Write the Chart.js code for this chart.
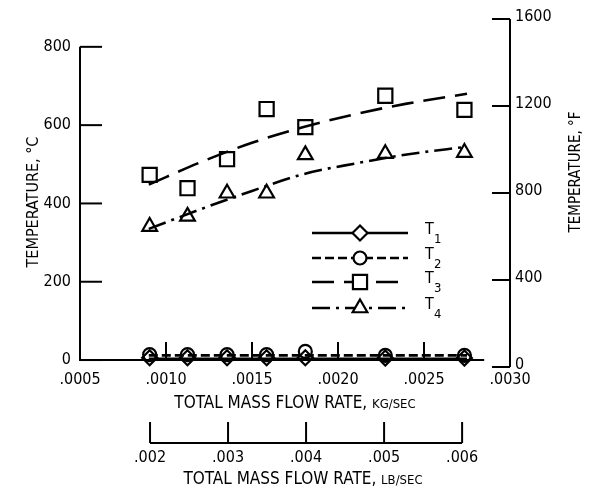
<!DOCTYPE html>
<html>
<head>
<meta charset="utf-8">
<script src="https://cdn.jsdelivr.net/npm/chart.js@4.4.1/dist/chart.umd.min.js"></script>
<style>
  html, body { margin: 0; padding: 0; background: #fff; }
  #wrap { width: 589px; height: 491px; }
</style>
</head>
<body>
<div id="wrap"><canvas id="tempChart"></canvas></div>
<script>
// measured points (kg/sec, deg C)
const flowKg = [0.000905, 0.001125, 0.001355, 0.001585, 0.00181, 0.002275, 0.002735];
const t1 = [6, 6, 6, 6, 6, 5, 5];
const t2 = [14, 14, 14, 14, 22, 12, 12];
const t3 = [473, 439, 513, 641, 595, 675, 639];
const t4 = [341, 367, 426, 426, 524, 527, 530];

// faired curves
const fitX = [0.0009, 0.0012, 0.0015, 0.0018, 0.0021, 0.0024, 0.00275];
const fitT1 = [3, 3, 3, 3, 3, 3, 3];
const fitT2 = [12, 12, 12, 12, 12, 12, 12];
const fitT3 = [448, 505, 555, 595, 628, 655, 680];
const fitT4 = [335, 385, 432, 475, 502, 525, 545];

// axis ticks
const ticksKg = [0.0005, 0.0010, 0.0015, 0.0020, 0.0025, 0.0030];
const ticksLb = [0.002, 0.003, 0.004, 0.005, 0.006];
const ticksC = [0, 200, 400, 600, 800];
const ticksF = [0, 400, 800, 1200, 1600];
const seriesNames = ['1', '2', '3', '4'];

const LB_TO_KG = 0.45359237;
const FONT = '"DejaVu Sans Condensed", "DejaVu Sans", sans-serif';

function pts(xs, ys) { return xs.map((v, i) => ({ x: v, y: ys[i] })); }
function fmtDec(v, digits) { return '.' + v.toFixed(digits).split('.')[1]; }

const styles = [
    { pointStyle: 'rectRot', radius: 7.5, dash: [] },
    { pointStyle: 'circle', radius: 6.5, dash: [9, 4] },
    { pointStyle: 'rect', radius: 10, dash: [22, 10] },
    { pointStyle: 'triangle', radius: 8.5, dash: [18, 6, 3, 6] }
];
const measured = [t1, t2, t3, t4];
const fits = [fitT1, fitT2, fitT3, fitT4];

const datasets = [];
fits.forEach((f, i) => {
    datasets.push({
        data: pts(fitX, f), showLine: true, borderColor: '#000', borderWidth: 2.6,
        borderDash: styles[i].dash, pointRadius: 0, cubicInterpolationMode: 'monotone', fill: false
    });
});
measured.forEach((m, i) => {
    datasets.push({
        data: pts(flowKg, m), showLine: false, pointStyle: styles[i].pointStyle,
        pointRadius: styles[i].radius, pointBackgroundColor: 'rgba(255,255,255,0)',
        pointBorderColor: '#000', pointBorderWidth: 2.2
    });
});

function line(ctx, x1, y1, x2, y2) {
    ctx.beginPath(); ctx.moveTo(x1, y1); ctx.lineTo(x2, y2); ctx.stroke();
}

function marker(ctx, style, r, cx, cy) {
    ctx.beginPath();
    if (style === 'rectRot') {
        ctx.moveTo(cx - r, cy); ctx.lineTo(cx, cy - r); ctx.lineTo(cx + r, cy); ctx.lineTo(cx, cy + r); ctx.closePath();
    } else if (style === 'circle') {
        ctx.arc(cx, cy, r, 0, Math.PI * 2);
    } else if (style === 'rect') {
        const s = r * Math.SQRT1_2;
        ctx.rect(cx - s, cy - s, 2 * s, 2 * s);
    } else {
        for (let k = 0; k < 3; k++) {
            const a = k * 2 * Math.PI / 3;
            const px = cx + Math.sin(a) * r, py = cy - Math.cos(a) * r;
            if (k === 0) ctx.moveTo(px, py); else ctx.lineTo(px, py);
        }
        ctx.closePath();
    }
    ctx.fillStyle = '#fff'; ctx.fill(); ctx.stroke();
}

// two-size caption: main words then small caps unit
function caption(ctx, big, small, cx, cy, bigSize, smallSize) {
    ctx.font = bigSize + 'px ' + FONT;
    const w1 = ctx.measureText(big).width;
    ctx.font = smallSize + 'px ' + FONT;
    const w2 = ctx.measureText(small).width;
    let sx = cx - (w1 + w2) / 2;
    ctx.textAlign = 'left'; ctx.textBaseline = 'alphabetic';
    ctx.font = bigSize + 'px ' + FONT;
    ctx.fillText(big, sx, cy);
    ctx.font = smallSize + 'px ' + FONT;
    ctx.fillText(small, sx + w1, cy);
}

const paperAxes = {
    id: 'paperAxes',
    afterDraw(chart) {
        const { ctx } = chart;
        const { x, y, yF, xLb } = chart.scales;
        ctx.save();
        ctx.strokeStyle = '#000'; ctx.fillStyle = '#000'; ctx.lineWidth = 2; ctx.setLineDash([]);

        const y0 = y.getPixelForValue(0);
        const xl = x.getPixelForValue(0.0005);
        const xr = x.getPixelForValue(0.0030);

        // left axis, deg C
        line(ctx, xl, y0 + 1, xl, y.getPixelForValue(800));
        ctx.font = '16px ' + FONT; ctx.textAlign = 'right'; ctx.textBaseline = 'middle';
        ticksC.forEach(v => {
            const py = y.getPixelForValue(v);
            line(ctx, xl, py, xl + 22, py);
            ctx.fillText(String(v), xl - 9, py);
        });

        // right axis, deg F
        line(ctx, xr, yF.getPixelForValue(0), xr, yF.getPixelForValue(1600));
        ctx.textAlign = 'left';
        ticksF.forEach(v => {
            const py = yF.getPixelForValue(v);
            line(ctx, xr, py, xr - 18, py);
            ctx.fillText(String(v), xr + 5, py - 2);
        });

        // bottom axis, kg/sec
        line(ctx, xl, y0, x.getPixelForValue(0.00285), y0);
        ctx.textAlign = 'center'; ctx.textBaseline = 'middle';
        ticksKg.forEach(v => {
            const px = x.getPixelForValue(v);
            if (v > 0.0005 && v < 0.0030) line(ctx, px, y0, px, y0 - 18);
            ctx.fillText(fmtDec(v, 4), px, y0 + 20);
        });
        caption(ctx, 'TOTAL MASS FLOW RATE, ', 'KG/SEC', 295, 408, 17, 13);

        // second bottom axis, lb/sec
        const yl = 443;
        line(ctx, xLb.getPixelForValue(0.002), yl, xLb.getPixelForValue(0.006), yl);
        ctx.font = '16px ' + FONT; ctx.textAlign = 'center'; ctx.textBaseline = 'middle';
        ticksLb.forEach(v => {
            const px = xLb.getPixelForValue(v);
            line(ctx, px, yl, px, yl - 21);
            ctx.fillText(fmtDec(v, 3), px, yl + 15);
        });
        caption(ctx, 'TOTAL MASS FLOW RATE, ', 'LB/SEC', 303, 484, 17, 13);

        // vertical titles
        ctx.save();
        ctx.translate(32, 202); ctx.rotate(-Math.PI / 2);
        caption(ctx, 'TEMPERATURE, ', '°C', 0, 6, 16, 16);
        ctx.restore();
        ctx.save();
        ctx.translate(574, 172); ctx.rotate(-Math.PI / 2);
        caption(ctx, 'TEMPERATURE, ', '°F', 0, 6, 15, 15);
        ctx.restore();

        // legend
        const rows = [233, 258, 282, 308];
        styles.forEach((s, i) => {
            ctx.lineWidth = 2.6; ctx.setLineDash(s.dash);
            line(ctx, 312, rows[i], 408, rows[i]);
            ctx.setLineDash([]); ctx.lineWidth = 2.2;
            marker(ctx, s.pointStyle, s.radius, 360, rows[i]);
            ctx.fillStyle = '#000';
            ctx.font = '16px ' + FONT; ctx.textAlign = 'left'; ctx.textBaseline = 'middle';
            ctx.fillText('T', 425, rows[i] - 3);
            ctx.font = '13px ' + FONT;
            ctx.fillText(seriesNames[i], 434, rows[i] + 7);
        });
        ctx.restore();
    }
};

new Chart(document.getElementById('tempChart'), {
    type: 'scatter',
    data: { datasets: datasets },
    options: {
        responsive: true,
        maintainAspectRatio: false,
        animation: false,
        layout: { padding: { left: 80, right: 79, top: 19, bottom: 124 } },
        plugins: { legend: { display: false }, tooltip: { enabled: false } },
        scales: {
            x: { type: 'linear', min: 0.0005, max: 0.0030, display: false },
            xLb: { type: 'linear', axis: 'x', min: 0.0005 / LB_TO_KG, max: 0.0030 / LB_TO_KG, display: false },
            y: { type: 'linear', min: (0 - 32) / 1.8, max: (1600 - 32) / 1.8, display: false },
            yF: { type: 'linear', axis: 'y', min: 0, max: 1600, display: false }
        }
    },
    plugins: [paperAxes]
});
</script>
</body>
</html>
